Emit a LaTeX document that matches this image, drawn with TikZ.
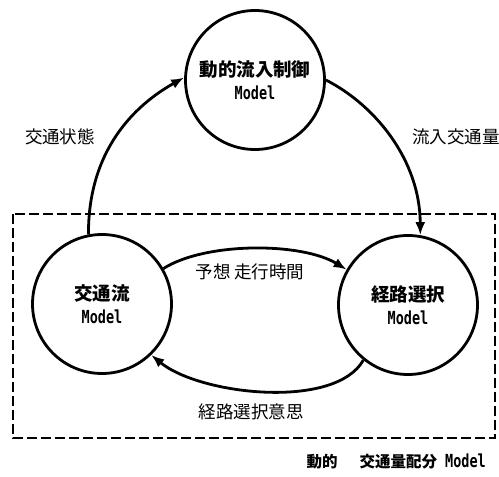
\documentclass[tikz,border=0pt]{standalone}
\usepackage{fontspec}
\usepackage{graphicx}
\setmainfont{Noto Sans CJK JP}
\newfontfamily\mono{DejaVu Sans Mono}
\newcommand{\mdl}{\scalebox{0.75}[1]{\fontsize{18}{20}\selectfont\mono\bfseries Model}}
\usetikzlibrary{arrows.meta}
\begin{document}
\begin{tikzpicture}[x=1pt,y=-1pt,
  model/.style={circle,draw,line width=2.8pt,inner sep=0pt,minimum size=139pt,align=center,
    font=\fontsize{18.5}{23.5}\selectfont\bfseries},
  flow/.style={line width=2.8pt,-{Latex[length=13pt,width=10pt]}},
  lbl/.style={font=\fontsize{17.5}{20}\selectfont,inner sep=0pt},
  frame/.style={line width=1.5pt,dash pattern=on 10pt off 4pt}]
\useasboundingbox (0,0) rectangle (499,477);
\draw[frame] (13,214) rectangle (495,438);
\node[model] (top) at (255,80) {動的流入制御\\\mdl};
\node[model] (left) at (102,304) {交通流\\\mdl};
\node[model] (right) at (408,305) {経路選択\\\mdl};
\draw[flow] (left.101) .. controls (88,150) and (135,105) .. (top.178);
\draw[flow] (top.0) .. controls (375,105) and (420,160) .. (right.80);
\draw[flow] (left.30) .. controls (205,242) and (301,242) .. (right.150);
\draw[flow] (right.231) .. controls (335,410) and (200,395) .. (left.314);
\node[lbl] (l1) at (60,137) {交通状態};
\node[lbl,anchor=west] (l2) at (412,137) {流入交通量};
\node[lbl] (l3) at (250,272) {予想 走行時間};
\node[lbl] (l4) at (251,412) {経路選択意思};
\node[lbl,anchor=east,font=\fontsize{15.5}{20}\selectfont\bfseries] (cap) at (486,461) {動的\hspace{22pt}交通量配分\hspace{8pt}\mdl};
\end{tikzpicture}
\end{document}
